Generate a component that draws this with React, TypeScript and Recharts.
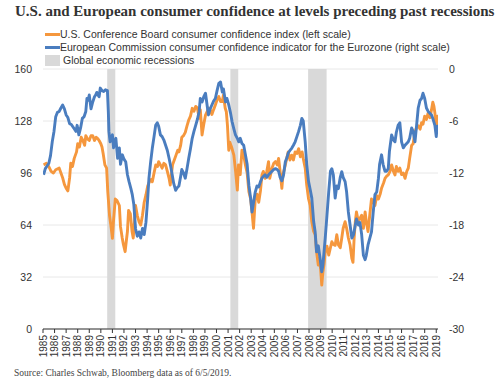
import {
  CartesianGrid,
  Line,
  LineChart,
  ReferenceArea,
  XAxis,
  YAxis,
} from "recharts";

// U.S. Conference Board consumer confidence index (left scale)
const usYears = [
  1985.05, 1985.3, 1985.5, 1985.7, 1985.9, 1986.1, 1986.4, 1986.55, 1986.7, 1986.85, 1987.0, 1987.15, 1987.3, 1987.4,
  1987.55, 1987.7, 1987.9, 1988.0, 1988.15, 1988.3, 1988.45, 1988.6, 1988.7, 1988.85, 1989.0, 1989.15, 1989.3, 1989.45,
  1989.6, 1989.75, 1989.85, 1990.0, 1990.1, 1990.2, 1990.35, 1990.5, 1990.6, 1990.75, 1990.9, 1991.0, 1991.1, 1991.25,
  1991.4, 1991.6, 1991.7, 1991.85, 1991.95, 1992.1, 1992.2, 1992.3, 1992.4, 1992.55, 1992.7, 1992.8, 1992.9, 1993.0,
  1993.15, 1993.3, 1993.45, 1993.6, 1993.75, 1993.9, 1994.05, 1994.2, 1994.35, 1994.45, 1994.6, 1994.75, 1994.9, 1995.0,
  1995.15, 1995.3, 1995.45, 1995.6, 1995.75, 1995.9, 1996.0, 1996.1, 1996.2, 1996.35, 1996.5, 1996.65, 1996.75, 1996.9,
  1997.0, 1997.15, 1997.3, 1997.45, 1997.6, 1997.75, 1997.9, 1998.05, 1998.2, 1998.35, 1998.5, 1998.6, 1998.75, 1998.9,
  1999.05, 1999.2, 1999.3, 1999.45, 1999.6, 1999.75, 1999.9, 2000.05, 2000.2, 2000.35, 2000.5, 2000.6, 2000.75, 2000.85,
  2000.95, 2001.06, 2001.15, 2001.3, 2001.5, 2001.65, 2001.8, 2001.9, 2002.05, 2002.2, 2002.35, 2002.5, 2002.65, 2002.8,
  2002.95, 2003.07, 2003.2, 2003.35, 2003.5, 2003.65, 2003.8, 2003.93, 2004.05, 2004.2, 2004.35, 2004.5, 2004.6, 2004.8,
  2004.95, 2005.1, 2005.25, 2005.37, 2005.5, 2005.65, 2005.75, 2005.95, 2006.1, 2006.2, 2006.35, 2006.5, 2006.65, 2006.8,
  2006.95, 2007.1, 2007.25, 2007.4, 2007.5, 2007.67, 2007.8, 2007.96, 2008.1, 2008.24, 2008.4, 2008.53, 2008.65, 2008.8,
  2008.9, 2009.0, 2009.1, 2009.2, 2009.3, 2009.4, 2009.55, 2009.7, 2009.85, 2009.97, 2010.1, 2010.26, 2010.4, 2010.54,
  2010.7, 2010.83, 2010.95, 2011.12, 2011.25, 2011.4, 2011.55, 2011.7, 2011.8, 2011.9, 2012.0, 2012.1, 2012.27, 2012.4,
  2012.55, 2012.7, 2012.85, 2012.95, 2013.1, 2013.25, 2013.4, 2013.55, 2013.7, 2013.85, 2014.0, 2014.15, 2014.27, 2014.45,
  2014.57, 2014.7, 2014.85, 2015.0, 2015.14, 2015.3, 2015.43, 2015.55, 2015.7, 2015.85, 2016.0, 2016.15, 2016.3, 2016.45,
  2016.58, 2016.7, 2016.87, 2017.0, 2017.16, 2017.3, 2017.44, 2017.6, 2017.73, 2017.85, 2018.0, 2018.15, 2018.3, 2018.45,
  2018.59, 2018.7, 2018.8, 2018.88, 2018.95, 2019.05, 2019.1, 2019.15,
];
const usIndex = [
  101, 102, 100, 97, 96, 98, 99, 96, 93, 89, 86.6, 85, 93, 102,
  100, 105, 109, 114, 112, 118, 116, 113, 119, 117, 116, 119, 119, 116,
  118, 117, 116, 114, 112, 108, 101, 99, 84.5, 70, 62, 55.8, 67, 80,
  79, 76, 63, 56, 52, 47.6, 54, 60, 73, 71, 60, 56, 65, 76,
  70, 66, 64, 70, 78, 82.5, 88, 90.6, 92, 90.6, 96, 101, 100, 103,
  101, 99, 102, 101, 97, 92.7, 88.6, 95, 101, 104, 107, 110, 109, 113,
  118, 119, 121, 125, 128.6, 131, 135.8, 134, 137, 136, 129.6, 135, 119.4, 126,
  131.7, 134, 136, 135, 132, 135, 137.8, 141, 143, 140, 140, 144, 136, 133.7,
  125, 110, 115, 112, 107, 97, 85.5, 101, 95, 110, 107, 101, 96, 84.5,
  80, 72, 62, 80, 83, 78, 85, 94.8, 97, 92.7, 97, 103, 92.7, 99,
  102, 103, 101, 105, 97, 86.6, 95, 101, 106, 109, 104, 107, 104, 109,
  108, 111, 106, 109, 105, 99, 88.6, 80, 76, 66, 60, 58, 47.6, 39.4,
  43.5, 37, 27, 35, 40, 47.6, 51, 45.5, 50, 53.7, 52, 51.5, 58, 51.7,
  50, 56, 62, 66, 62, 56, 51.7, 43.5, 41, 56, 66, 72, 66, 68,
  70, 62, 72, 66, 60, 70, 80, 78, 76, 82, 80, 83, 86.6, 90,
  92.7, 94, 94.8, 97, 101, 97, 94.8, 100, 97, 99, 95, 96, 92.7, 97,
  99, 105, 113, 114, 121.4, 124, 125, 123, 127, 126, 131, 129, 133, 130,
  135, 139.6, 137, 133, 128, 122, 131, 130,
];

// European Commission consumer confidence indicator for the Eurozone (right scale)
const euYears = [
  1985.05, 1985.2, 1985.35, 1985.5, 1985.65, 1985.8, 1985.95, 1986.1, 1986.25, 1986.4, 1986.55, 1986.7, 1986.85, 1987.0,
  1987.15, 1987.3, 1987.45, 1987.55, 1987.7, 1987.85, 1987.95, 1988.1, 1988.25, 1988.4, 1988.55, 1988.7, 1988.8, 1988.9,
  1989.0, 1989.15, 1989.3, 1989.45, 1989.55, 1989.65, 1989.75, 1989.85, 1989.95, 1990.1, 1990.25, 1990.4, 1990.57, 1990.65,
  1990.7, 1990.8, 1990.9, 1991.0, 1991.1, 1991.2, 1991.3, 1991.45, 1991.6, 1991.7, 1991.86, 1992.0, 1992.15, 1992.3,
  1992.44, 1992.6, 1992.72, 1992.85, 1993.0, 1993.15, 1993.3, 1993.45, 1993.6, 1993.75, 1993.9, 1994.05, 1994.16, 1994.3,
  1994.45, 1994.6, 1994.74, 1994.88, 1995.0, 1995.15, 1995.3, 1995.45, 1995.6, 1995.75, 1995.9, 1996.05, 1996.17, 1996.3,
  1996.47, 1996.6, 1996.75, 1996.9, 1997.0, 1997.15, 1997.3, 1997.45, 1997.6, 1997.75, 1997.9, 1998.05, 1998.2, 1998.35,
  1998.5, 1998.6, 1998.76, 1998.9, 1999.05, 1999.2, 1999.3, 1999.45, 1999.6, 1999.75, 1999.9, 2000.05, 2000.2, 2000.35,
  2000.5, 2000.6, 2000.78, 2000.9, 2001.06, 2001.2, 2001.35, 2001.5, 2001.64, 2001.8, 2001.92, 2002.05, 2002.2, 2002.35,
  2002.5, 2002.65, 2002.8, 2002.95, 2003.07, 2003.2, 2003.35, 2003.5, 2003.65, 2003.8, 2003.93, 2004.05, 2004.2, 2004.35,
  2004.5, 2004.65, 2004.8, 2004.95, 2005.1, 2005.25, 2005.37, 2005.5, 2005.65, 2005.8, 2005.95, 2006.1, 2006.2, 2006.35,
  2006.5, 2006.65, 2006.8, 2006.95, 2007.1, 2007.25, 2007.38, 2007.5, 2007.67, 2007.8, 2007.96, 2008.1, 2008.24, 2008.4,
  2008.53, 2008.65, 2008.8, 2008.95, 2009.1, 2009.2, 2009.4, 2009.55, 2009.7, 2009.85, 2009.97, 2010.1, 2010.26, 2010.4,
  2010.54, 2010.7, 2010.83, 2010.95, 2011.12, 2011.25, 2011.4, 2011.55, 2011.7, 2011.85, 2012.0, 2012.1, 2012.27, 2012.4,
  2012.55, 2012.7, 2012.85, 2012.95, 2013.1, 2013.4, 2013.55, 2013.7, 2013.85, 2014.0, 2014.1, 2014.27, 2014.4, 2014.57,
  2014.7, 2014.85, 2014.95, 2015.14, 2015.3, 2015.43, 2015.55, 2015.7, 2015.85, 2016.0, 2016.15, 2016.3, 2016.58, 2016.7,
  2016.87, 2017.0, 2017.16, 2017.3, 2017.44, 2017.6, 2017.73, 2017.85, 2018.0, 2018.15, 2018.3, 2018.45, 2018.59, 2018.7,
  2018.88, 2019.0, 2019.08, 2019.15,
];
const euIndex = [
  -12.2, -11.5, -11.2, -10.9, -10.0, -8.4, -7.2, -5.5, -5.0, -4.9, -4.5, -4.15, -4.6, -5.3,
  -5.6, -6.3, -6.4, -6.6, -6.9, -7.2, -6.5, -7.6, -6.8, -5.7, -5.5, -4.9, -3.4, -3.6,
  -3.0, -4.6, -3.8, -3.2, -3.0, -2.7, -3.0, -3.2, -2.2, -2.5, -2.6, -2.4, -2.5, -5.0,
  -7.2, -8.4, -7.9, -7.6, -9.1, -8.3, -8.0, -10.3, -9.1, -11.0, -9.9, -10.4, -10.7, -12.2,
  -13.0, -13.8, -14.5, -15.6, -18.4, -19.3, -18.8, -19.5, -18.4, -19.1, -17.7, -15.0, -12.6, -10.8,
  -9.15, -7.8, -6.5, -6.2, -6.6, -7.6, -7.8, -8.2, -8.8, -9.4, -10.3, -11.3, -12.2, -13.2,
  -14.0, -13.7, -13.5, -12.4, -11.6, -12.0, -12.6, -11.5, -10.3, -9.2, -8.0, -7.2, -6.5, -5.8,
  -4.9, -3.4, -3.8, -3.2, -2.8, -4.3, -5.3, -4.6, -4.15, -3.7, -3.4, -2.5, -1.65, -1.5,
  -2.65, -2.3, -3.8, -3.4, -4.15, -5.0, -6.1, -6.9, -7.6, -8.0, -8.4, -8.0, -8.6, -8.8,
  -9.9, -11.0, -13.4, -14.9, -16.5, -15.4, -14.2, -13.5, -13.6, -13.0, -12.6, -12.4, -12.2, -12.5,
  -12.2, -12.0, -11.8, -11.6, -11.5, -11.6, -11.8, -12.5, -12.9, -12.2, -10.7, -10.2, -9.7, -9.4,
  -9.15, -8.8, -8.4, -7.8, -7.2, -6.5, -5.7, -6.0, -8.4, -11.0, -13.0, -13.9, -14.9, -17.6,
  -18.8, -21.1, -20.4, -21.8, -23.4, -22.6, -19.5, -16.9, -14.2, -11.8, -11.5, -12.2, -14.9, -13.5,
  -13.8, -12.5, -11.85, -12.5, -13.0, -14.2, -16.5, -18.0, -19.5, -19.1, -18.0, -17.3, -18.0, -17.7,
  -19.1, -21.5, -22.0, -21.5, -20.3, -18.8, -16.5, -14.5, -14.2, -12.6, -11.0, -9.9, -11.0, -11.8,
  -11.8, -11.5, -9.5, -7.6, -8.2, -8.4, -7.3, -6.5, -6.2, -8.4, -9.1, -8.8, -8.4, -8.0,
  -6.8, -7.2, -8.4, -6.5, -4.5, -3.6, -3.4, -2.8, -3.4, -4.5, -4.9, -5.1, -5.3, -5.7,
  -6.5, -7.8, -6.6, -6.6,
];

// Global economic recessions (start, end)
const recessions = [
  [1990.55, 1991.25],
  [2001.2, 2001.88],
  [2007.92, 2009.52],
];

const yearTicks = [
  1985, 1986, 1987, 1988, 1989, 1990, 1991, 1992, 1993, 1994, 1995, 1996, 1997, 1998, 1999, 2000, 2001, 2002,
  2003, 2004, 2005, 2006, 2007, 2008, 2009, 2010, 2011, 2012, 2013, 2014, 2015, 2016, 2017, 2018, 2019,
];
const leftTicks = [0, 32, 64, 96, 128, 160];
const rightTicks = [-30, -24, -18, -12, -6, 0];

const usData = usYears.map((x, i) => ({ x, us: usIndex[i] }));
const euData = euYears.map((x, i) => ({ x, eu: euIndex[i] }));

const ORANGE = "#f5973d";
const BLUE = "#4a7dbf";
const SANS = "'Liberation Sans', Arial, sans-serif";
const SERIF = "'Liberation Serif', 'Times New Roman', serif";

function YearTick({ x, y, payload }: any) {
  return (
    <text
      x={x}
      y={y}
      transform={`rotate(-90 ${x} ${y})`}
      textAnchor="end"
      dy="0.35em"
      fontSize={10}
      fontFamily={SANS}
      fill="#333"
    >
      {payload.value}
    </text>
  );
}

export default function App() {
  return (
    <div
      style={{
        position: "absolute",
        left: 0,
        top: 0,
        width: 500,
        height: 383,
        background: "#fff",
        overflow: "hidden",
      }}
    >
      <div
        style={{
          position: "absolute",
          left: 15,
          top: 3,
          fontFamily: SERIF,
          fontWeight: "bold",
          fontSize: 15,
          color: "#333",
          whiteSpace: "nowrap",
        }}
      >
        U.S. and European consumer confidence at levels preceding past recessions
      </div>

      <div style={{ position: "absolute", left: 45, top: 28, fontFamily: SANS, fontSize: 10.5, color: "#333", lineHeight: "13px" }}>
        <div style={{ display: "flex", alignItems: "center" }}>
          <span style={{ width: 15, height: 3, background: ORANGE, display: "inline-block" }} />
          <span>U.S. Conference Board consumer confidence index (left scale)</span>
        </div>
        <div style={{ display: "flex", alignItems: "center" }}>
          <span style={{ width: 15, height: 3, background: BLUE, display: "inline-block" }} />
          <span>European Commission consumer confidence indicator for the Eurozone (right scale)</span>
        </div>
        <div style={{ display: "flex", alignItems: "center" }}>
          <span style={{ width: 15, height: 11, background: "#d9d9d9", display: "inline-block", marginRight: 3 }} />
          <span>Global economic recessions</span>
        </div>
      </div>

      <div style={{ position: "absolute", left: 0, top: 0 }}>
        <LineChart width={500} height={383} margin={{ top: 69, right: 22, bottom: 24, left: 8 }}>
          <CartesianGrid yAxisId="left" vertical={false} stroke="#e8e8e8" />
          <XAxis
            dataKey="x"
            type="number"
            domain={[1985, 2019.15]}
            ticks={yearTicks}
            interval={0}
            height={30}
            tick={<YearTick />}
            tickSize={4}
            tickMargin={2}
            axisLine={{ stroke: "#333" }}
            tickLine={{ stroke: "#333" }}
            allowDataOverflow
          />
          <YAxis
            yAxisId="left"
            domain={[0, 160]}
            ticks={leftTicks}
            width={35}
            axisLine={false}
            tickLine={false}
            tickMargin={5}
            tick={{ fontSize: 10.5, fill: "#333", fontFamily: SANS }}
          />
          <YAxis
            yAxisId="right"
            orientation="right"
            domain={[-30, 0]}
            ticks={rightTicks}
            width={40}
            axisLine={false}
            tickLine={false}
            tickMargin={5}
            tick={{ fontSize: 10.5, fill: "#333", fontFamily: SANS, textAnchor: "start" }}
          />
          {recessions.map(([a, b]) => (
            <ReferenceArea
              key={a}
              yAxisId="left"
              x1={a}
              x2={b}
              y1={0}
              y2={160}
              fill="#d9d9d9"
              fillOpacity={1}
              stroke="none"
            />
          ))}
          <Line
            yAxisId="left"
            data={usData}
            dataKey="us"
            stroke={ORANGE}
            strokeWidth={2.9}
            dot={false}
            isAnimationActive={false}
            strokeLinejoin="round"
          />
          <Line
            yAxisId="right"
            data={euData}
            dataKey="eu"
            stroke={BLUE}
            strokeWidth={2.9}
            dot={false}
            isAnimationActive={false}
            strokeLinejoin="round"
          />
        </LineChart>
      </div>

      <div
        style={{
          position: "absolute",
          left: 14,
          top: 368,
          fontFamily: SERIF,
          fontSize: 9.5,
          color: "#444",
          whiteSpace: "nowrap",
        }}
      >
        Source: Charles Schwab, Bloomberg data as of 6/5/2019.
      </div>
    </div>
  );
}
